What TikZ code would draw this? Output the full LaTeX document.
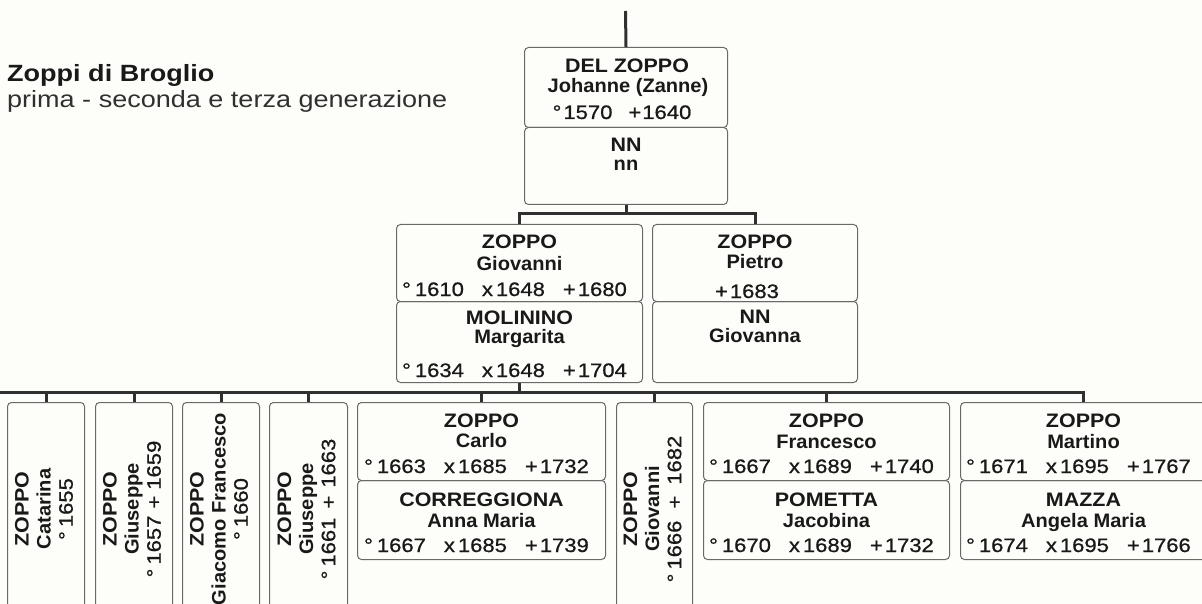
\documentclass[tikz,border=0pt]{standalone}
\usepackage{fontspec}
\setmainfont{Liberation Sans}
\newfontfamily\snfont{Liberation Sans}[FakeStretch=1.1]
\newfontfamily\fnfont{Liberation Sans}[FakeStretch=1.03]
\newfontfamily\dtfont{Liberation Sans}[FakeStretch=1.13,FakeBold=0.8]
\newfontfamily\ttlfont{Liberation Sans}[FakeStretch=1.15]
\definecolor{bg}{RGB}{253,253,249}
\definecolor{ink}{RGB}{25,25,25}
\definecolor{wire}{RGB}{48,48,48}
\definecolor{edge}{RGB}{105,105,105}
\newcommand\yrs[3]{°\hspace{4pt}#1\hspace{18pt}x\hspace{3pt}#2\hspace{18pt}+\hspace{2pt}#3}
\newcommand\ptxt[7]{%
  \node[sn] at ([yshift=-#2pt]#1.north) {#5};
  \node[fn] at ([yshift=-#3pt]#1.north) {#6};
  \node[dt] at ([yshift=-#4pt,xshift=-5pt]#1.north) {#7};}
\begin{document}
\begin{tikzpicture}[x=1pt,y=-1pt,
  pbox/.style={draw=edge, line width=1pt, rounded corners=4pt, inner sep=0pt, anchor=north west},
  wire/.style={draw=wire, line width=3pt},
  sn/.style={anchor=base, inner sep=0pt, text=ink, font=\snfont\bfseries\fontsize{19.5}{22}\selectfont},
  fn/.style={anchor=base, inner sep=0pt, text=ink, font=\fnfont\bfseries\fontsize{19.5}{22}\selectfont},
  dt/.style={anchor=base, inner sep=0pt, text=ink, font=\dtfont\fontsize{19.5}{22}\selectfont},
  rot/.style={rotate=90, align=center, inner sep=0pt, text=ink, font=\fontsize{19.5}{22}\selectfont},
  ttl/.style={anchor=base west, inner sep=0pt, text=ink, font=\ttlfont\bfseries\fontsize{23.5}{27}\selectfont},
  sub/.style={anchor=base west, inner sep=0pt, text=ink!90, font=\ttlfont\fontsize{23.5}{27}\selectfont}]
\path[use as bounding box, fill=bg] (0,0) rectangle (1202,604);
\clip (0,0) rectangle (1202,604);

% title
\node[ttl] (title) at (7,82) {Zoppi di Broglio};
\node[sub] (subtitle) at (7,108) {prima - seconda e terza generazione};

% first generation
\node[pbox, minimum width=203pt, minimum height=80pt] (dz) at (524,47) {};
\node[pbox, minimum width=203pt, minimum height=77pt] (dzw) at (524,127) {};
\node[sn] at ([yshift=-26pt,xshift=1pt]dz.north) {DEL ZOPPO};
\node[fn] at ([yshift=-46pt,xshift=2pt]dz.north) {Johanne (Zanne)};
\node[dt] at ([yshift=-72pt,xshift=-4pt]dz.north) {°\hspace{2pt}1570\hspace{16pt}+\hspace{1pt}1640};
\node[sn] at ([yshift=-25pt]dzw.north) {NN};
\node[fn] at ([yshift=-44pt]dzw.north) {nn};

% second generation
\node[pbox, minimum width=246pt, minimum height=77pt] (gio) at (396,224) {};
\node[pbox, minimum width=246pt, minimum height=81pt] (mol) at (396,301) {};
\node[pbox, minimum width=205pt, minimum height=77pt] (pie) at (652,224) {};
\node[pbox, minimum width=205pt, minimum height=81pt] (pnn) at (652,301) {};
\ptxt{gio}{24}{46}{72}{ZOPPO}{Giovanni}{\yrs{1610}{1648}{1680}}
\ptxt{mol}{23}{42}{76}{MOLININO}{Margarita}{\yrs{1634}{1648}{1704}}
\node[sn] at ([yshift=-24pt]pie.north) {ZOPPO};
\node[fn] at ([yshift=-44pt]pie.north) {Pietro};
\node[dt] at ([yshift=-74pt,xshift=-8pt]pie.north) {+\hspace{2pt}1683};
\node[sn] at ([yshift=-22pt]pnn.north) {NN};
\node[fn] at ([yshift=-41pt]pnn.north) {Giovanna};

% third generation
\node[pbox, minimum width=77pt, minimum height=213pt] (c1) at (7,402) {};
\node[pbox, minimum width=77pt, minimum height=213pt] (c2) at (95,402) {};
\node[pbox, minimum width=77pt, minimum height=213pt] (c3) at (182,402) {};
\node[pbox, minimum width=78pt, minimum height=213pt] (c4) at (269,402) {};
\node[pbox, minimum width=248pt, minimum height=78pt] (car) at (357,402) {};
\node[pbox, minimum width=248pt, minimum height=79pt] (cor) at (357,480) {};
\node[pbox, minimum width=76pt, minimum height=213pt] (c6) at (616,402) {};
\node[pbox, minimum width=246pt, minimum height=78pt] (fra) at (703,402) {};
\node[pbox, minimum width=246pt, minimum height=79pt] (pom) at (703,480) {};
\node[pbox, minimum width=246pt, minimum height=78pt] (mar) at (960,402) {};
\node[pbox, minimum width=246pt, minimum height=79pt] (maz) at (960,480) {};

\node[rot] at ([xshift=-2pt]c1.center) {{\snfont\bfseries ZOPPO}\\{\fnfont\bfseries Catarina}\\{\dtfont °\hspace{4pt}1655}};
\node[rot] at ([xshift=-2pt]c2.center) {{\snfont\bfseries ZOPPO}\\{\fnfont\bfseries Giuseppe}\\{\dtfont °\hspace{4pt}1657\hspace{7pt}+\hspace{6pt}1659}};
\node[rot] at ([xshift=-2pt]c3.center) {{\snfont\bfseries ZOPPO}\\{\fnfont\bfseries Giacomo Francesco}\\{\dtfont °\hspace{4pt}1660}};
\node[rot] at ([xshift=-2pt]c4.center) {{\snfont\bfseries ZOPPO}\\{\fnfont\bfseries Giuseppe}\\{\dtfont °\hspace{4pt}1661\hspace{9pt}+\hspace{8pt}1663}};
\node[rot] at ([xshift=-2pt]c6.center) {{\snfont\bfseries ZOPPO}\\{\fnfont\bfseries Giovanni}\\{\dtfont °\hspace{4pt}1666\hspace{12pt}+\hspace{11pt}1682}};

\ptxt{car}{25}{45}{71}{ZOPPO}{Carlo}{\yrs{1663}{1685}{1732}}
\ptxt{cor}{26}{47}{72}{CORREGGIONA}{Anna Maria}{\yrs{1667}{1685}{1739}}
\ptxt{fra}{25}{46}{71}{ZOPPO}{Francesco}{\yrs{1667}{1689}{1740}}
\ptxt{pom}{26}{47}{72}{POMETTA}{Jacobina}{\yrs{1670}{1689}{1732}}
\ptxt{mar}{25}{46}{71}{ZOPPO}{Martino}{\yrs{1671}{1695}{1767}}
\ptxt{maz}{26}{47}{72}{MAZZA}{Angela Maria}{\yrs{1674}{1695}{1766}}

% connectors
\coordinate (root) at (625.5,11);
\draw[wire] (root) -- (dz.north);
\draw[wire] (dzw.south) -- ++(0,9) coordinate (r1);
\draw[wire] (gio.north) -- (gio.north |- r1) -- (pie.north |- r1) -- (pie.north);
\draw[wire] (mol.south) -- ++(0,9) coordinate (r2);
\coordinate (railL) at (-3,391);
\draw[wire] (railL |- r2) -- (mar.north |- r2) -- (mar.north);
\foreach \n in {c1,c2,c3,c4,car,c6,fra}
  \draw[wire] (\n.north |- r2) -- (\n.north);
\end{tikzpicture}
\end{document}
